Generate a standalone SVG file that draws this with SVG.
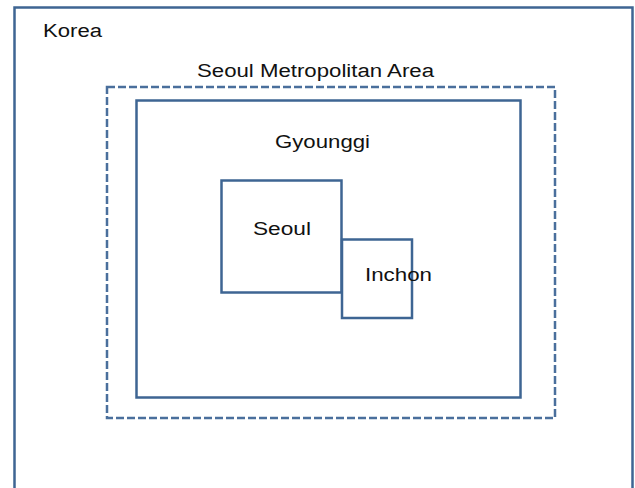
<svg xmlns="http://www.w3.org/2000/svg" width="635" height="488" viewBox="0 0 635 488">
<style>
.box{fill:none;stroke:#3e6593;stroke-width:2.5}
.dash{fill:none;stroke:#4a6f9c;stroke-width:2.5;stroke-dasharray:8 3}
.lbl{font-family:"Liberation Sans",Arial,sans-serif;font-size:18px;fill:#111}
</style>
<rect width="635" height="488" fill="#fff"/>
<g id="korea">
<rect class="box" x="14.5" y="7.5" width="618" height="500"/>
<text class="lbl" x="43" y="37" textLength="59" lengthAdjust="spacingAndGlyphs">Korea</text>
</g>
<g id="seoul-metropolitan-area">
<rect class="dash" x="107" y="87" width="448" height="331"/>
<text class="lbl" x="197" y="77" textLength="237" lengthAdjust="spacingAndGlyphs">Seoul Metropolitan Area</text>
</g>
<g id="gyounggi">
<rect class="box" x="136.5" y="100.5" width="384" height="297" stroke-width="3"/>
<text class="lbl" x="275" y="148" textLength="95" lengthAdjust="spacingAndGlyphs">Gyounggi</text>
</g>
<g id="seoul">
<rect class="box" x="221.5" y="180.5" width="120" height="112"/>
<text class="lbl" x="253" y="235" textLength="58" lengthAdjust="spacingAndGlyphs">Seoul</text>
</g>
<g id="inchon">
<rect class="box" x="342" y="239.5" width="70" height="78.5"/>
<text class="lbl" x="365" y="281" textLength="67" lengthAdjust="spacingAndGlyphs">Inchon</text>
</g>
<g id="connectors"/>
</svg>
